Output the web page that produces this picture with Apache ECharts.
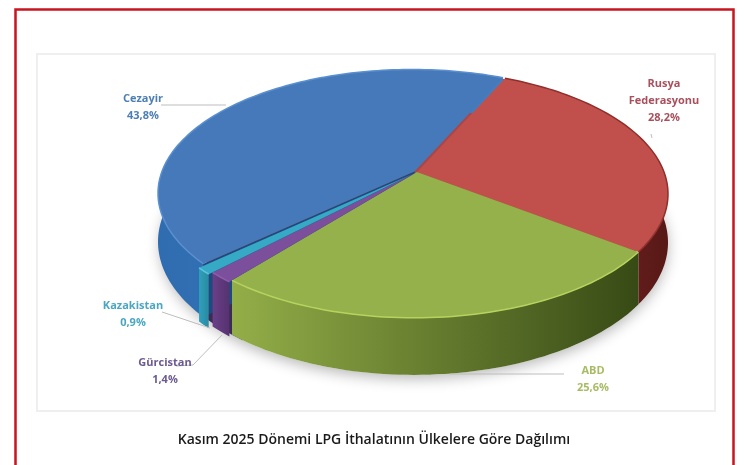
<!DOCTYPE html>
<html>
<head>
<meta charset="utf-8">
<title>LPG</title>
<script src="https://cdn.jsdelivr.net/npm/echarts@6/dist/echarts.min.js"></script>
<style>
html, body { margin: 0; padding: 0; background: #fff; }
#main { width: 746px; height: 465px; filter: blur(0.4px); }
</style>
</head>
<body>
<div id="main"></div>
<script>
// veriler (saat yönünde, Rusya'dan başlayarak)
const countries = ['Rusya\nFederasyonu', 'ABD', 'Gürcistan', 'Kazakistan', 'Cezayir'];
const shares = [28.2, 25.6, 1.4, 0.9, 43.8];
const shareLabels = ['28,2%', '25,6%', '1,4%', '0,9%', '43,8%'];
const chartTitle = 'Kasım 2025 Dönemi LPG İthalatının Ülkelere Göre Dağılımı';

// dilimlerin renkleri
const topColors = ['#c14f4c', '#94b14b', '#7c4f9c', '#35a9c6', '#4679b9'];
const wallColors = [
    ['#8c2f2c', '#571816'],
    ['#93ae48', '#374a15'],
    ['#6a4088', '#553270'],
    ['#2fa0bb', '#2a8aa3'],
    ['#2f6cb0', '#3f80c6']
];
const rimColors = ['#8f302d', '#b7d35f', '#8a5fae', '#5fc4dc', '#5a90d0'];
const labelColors = ['#a8505c', '#a6bc62', '#6c5a90', '#4ba6c2', '#4d7fb4'];
const explode = [0, 0, 0.012, 0.028, 0.011];

// etiket yerleşimi
const labelPos = [[664, 101], [593, 379], [165, 371], [133, 314], [143, 107]];
const leaderLines = [
    [[651, 134], [652, 138]],
    [[450, 374], [564, 374]],
    [[176, 366], [193, 365], [222, 335]],
    [[162, 312], [210, 328]],
    [[161, 105], [226, 105]]
];

// perspektif izdüşüm
const cx = 414, cy = 172, A = 250, B = 120, K = 0.177, DEPTH = 47, HUB_U = 0.012;
const startDeg = 25;
const total = shares.reduce((a, b) => a + b, 0);

function project(u, v, down) {
    const w = 1 - K * v;
    return [cx + A * u / w, cy + B * v / w + (down ? DEPTH / w : 0)];
}

const slices = [];
let cur = startDeg;
shares.forEach((s, i) => {
    const a0 = cur * Math.PI / 180;
    cur += s / total * 360;
    const a1 = cur * Math.PI / 180;
    const mid = (a0 + a1) / 2;
    slices.push({ a0, a1, ou: Math.sin(mid) * explode[i], ov: -Math.cos(mid) * explode[i] });
});

function rimPoint(sl, a, down) {
    return project(sl.ou + Math.sin(a), sl.ov - Math.cos(a), down);
}

function rimPoints(sl, down) {
    const pts = [];
    const n = Math.max(4, Math.round((sl.a1 - sl.a0) * 40));
    for (let k = 0; k <= n; k++) {
        pts.push(rimPoint(sl, sl.a0 + (sl.a1 - sl.a0) * k / n, down));
    }
    return pts;
}

function grad(c) {
    return new echarts.graphic.LinearGradient(0, 0, 1, 0, [
        { offset: 0, color: c[0] }, { offset: 1, color: c[1] }
    ]);
}

function renderShadow() {
    const pts = [];
    const disc = [];
    for (let k = 0; k < 120; k++) {
        const a = k / 120 * Math.PI * 2;
        pts.push(project(Math.sin(a), -Math.cos(a), true));
        disc.push(project(Math.sin(a) * 0.99, -Math.cos(a) * 0.99, false));
    }
    // küçük dilimlerin arkasında boşluk kalmasın
    const back = { a0: slices[2].a0 - 0.05, a1: slices[3].a1 + 0.05, ou: 0, ov: 0 };
    return {
        type: 'group',
        children: [
            {
                type: 'polygon',
                shape: { points: pts },
                style: { fill: '#fff', shadowBlur: 14, shadowColor: 'rgba(0,0,0,0.28)', shadowOffsetY: 4 }
            },
            { type: 'polygon', shape: { points: disc }, style: { fill: '#a84648' } },
            {
                type: 'polygon',
                shape: { points: rimPoints(back, false).concat(rimPoints(back, true).reverse()) },
                style: { fill: '#3a2c52' }
            }
        ]
    };
}

const wallOrder = [4, 0, 3, 2, 1];

function renderWall(params) {
    const i = wallOrder[params.dataIndex];
    const sl = slices[i];
    const top = rimPoints(sl, false);
    const bottom = rimPoints(sl, true).reverse();
    const children = [];
    if (i === 4) {
        // Cezayir diliminin öne bakan kesiti
        const c = project(sl.ou + HUB_U, sl.ov, false);
        const cd = project(sl.ou + HUB_U, sl.ov, true);
        children.push({
            type: 'polygon',
            shape: { points: [c, top[0], bottom[bottom.length - 1], cd] },
            style: { fill: '#1f4a80' }
        });
    }
    children.push({ type: 'polygon', shape: { points: top.concat(bottom) }, style: { fill: grad(wallColors[i]) } });
    return { type: 'group', children };
}

function renderTop(params) {
    const i = params.dataIndex;
    const sl = slices[i];
    const rim = rimPoints(sl, false);
    return {
        type: 'group',
        children: [
            { type: 'polygon', shape: { points: [project(sl.ou + HUB_U, sl.ov, false)].concat(rim) }, style: { fill: topColors[i] } },
            { type: 'polyline', shape: { points: rim }, style: { fill: 'none', stroke: rimColors[i], lineWidth: 1.5 } }
        ]
    };
}

function renderLabel(params) {
    const i = params.dataIndex;
    return {
        type: 'group',
        children: [
            {
                type: 'polyline',
                shape: { points: leaderLines[i] },
                style: { fill: 'none', stroke: '#bdbdbd', lineWidth: 1 }
            },
            {
                type: 'text',
                x: labelPos[i][0],
                y: labelPos[i][1],
                style: {
                    text: countries[i] + '\n' + shareLabels[i],
                    fill: labelColors[i],
                    font: 'bold 11px "Open Sans", sans-serif',
                    lineHeight: 17,
                    align: 'center',
                    verticalAlign: 'middle'
                }
            }
        ]
    };
}

var myChart = echarts.init(document.getElementById('main'), null, { renderer: 'canvas' });
var option = {
    animation: false,
    backgroundColor: '#fff',
    graphic: [
        // kırmızı çerçeve
        { type: 'rect', z: 0, shape: { x: 15.5, y: 9.5, width: 718, height: 470 }, style: { fill: '#fff', stroke: '#c8151f', lineWidth: 2.5 } },
        // grafik alanı
        { type: 'rect', z: 0, shape: { x: 37, y: 54, width: 678, height: 357 }, style: { fill: '#fff', stroke: '#efefef', lineWidth: 2 } },
        {
            type: 'text', z: 5, x: 374, y: 440,
            style: { text: chartTitle, fill: '#1a1a1a', font: '600 14px "Open Sans", sans-serif', align: 'center', verticalAlign: 'middle' }
        }
    ],
    series: [
        { type: 'custom', coordinateSystem: 'none', z: 1, data: [0], renderItem: renderShadow, silent: true },
        { type: 'custom', coordinateSystem: 'none', z: 2, data: wallOrder, renderItem: renderWall, silent: true },
        { type: 'custom', coordinateSystem: 'none', z: 3, data: shares, renderItem: renderTop, silent: true },
        { type: 'custom', coordinateSystem: 'none', z: 4, data: shares, renderItem: renderLabel, silent: true }
    ]
};
myChart.setOption(option);
</script>
</body>
</html>
